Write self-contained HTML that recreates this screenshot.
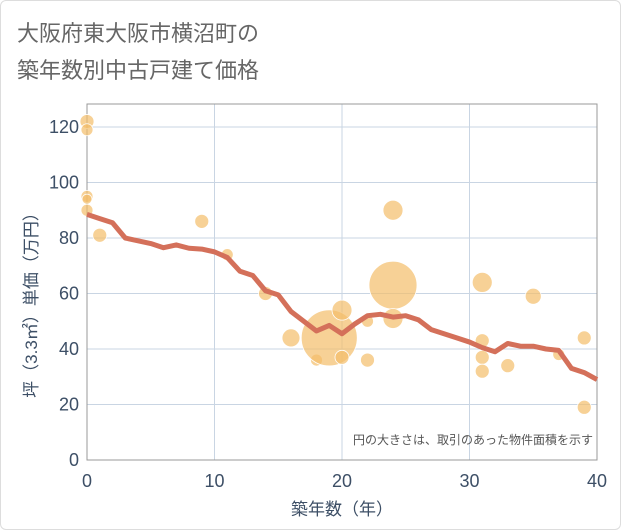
<!DOCTYPE html>
<html><head><meta charset="utf-8"><style>
body{margin:0;background:#fff;font-family:"Liberation Sans","Noto Sans CJK JP",sans-serif;}
#wrap{position:relative;width:619px;height:528px;border:1px solid #ddd;border-radius:6px;overflow:hidden}
</style></head><body>
<div id="wrap">
<svg id="c" width="621" height="530"></svg>
</div>
<script>
const lineX=[0,1,2,3,4,5,6,7,8,9,10,11,12,13,14,15,16,17,18,19,20,21,22,23,24,25,26,27,28,29,30,31,32,33,34,35,36,37,38,39,40];
const lineY=[88.5,87,85.5,80,79,78,76.5,77.5,76.3,76,75,73,68,66.5,61,59.5,53.5,50,46.5,48.5,45.5,49,52,52.5,51.5,52,50.5,47,45.5,44,42.5,40.5,39,42,41,41,40,39.5,33,31.5,29];
const bubX=[0,0,0,0,0,1,9,11,14,16,18,19,20,20,22,22,24,24,24,31,31,31,31,33,35,37,39,39];
const bubY=[122,119,95,94,90,81,86,74,60,44,36,44,54,37,50,36,90,63,51,64,43,37,32,34,59,38,44,19];
const bubR=[7,6,6,5,6,7,7,6,7,9,6,28,10,7,6,7,10,24,10,10,7,7,7,7,8,6,7,7];
const xTicks=[0,10,20,30,40];
const yTicks=[0,20,40,60,80,100,120];
const L=86,R=596,T=103,B=459;
const sx=v=>L+v*(R-L)/40, sy=v=>B-v*2.775;
const svg=document.getElementById('c');const NS='http://www.w3.org/2000/svg';
function mk(t,a,txt){const e=document.createElementNS(NS,t);for(const k in a)e.setAttribute(k,a[k]);if(txt!==undefined)e.textContent=txt;svg.appendChild(e);return e;}
let e;
e=mk('text',{x:16,y:40,'font-size':22,fill:'#666'},'大阪府東大阪市横沼町の');

e=mk('text',{x:16,y:77,'font-size':22,fill:'#666'},'築年数別中古戸建て価格');

yTicks.forEach(v=>{e=mk('line',{x1:L,x2:R,y1:sy(v),y2:sy(v),stroke:'#c9d5e3','stroke-width':1});

e=mk('text',{x:L-8,y:sy(v)+6,'text-anchor':'end','font-size':18,fill:'#3d4f66'},v);
});
xTicks.forEach(v=>{e=mk('line',{x1:sx(v),x2:sx(v),y1:T,y2:B,stroke:'#c9d5e3','stroke-width':1});

e=mk('text',{x:sx(v),y:B+27,'text-anchor':'middle','font-size':18,fill:'#3d4f66'},v);
});
e=mk('rect',{x:L,y:T,width:R-L,height:B-T,fill:'none',stroke:'#999','stroke-width':1});

bubX.forEach((x,i)=>{e=mk('circle',{cx:sx(x),cy:sy(bubY[i]),r:bubR[i],fill:'#f3bd69','fill-opacity':0.7,stroke:'#fff','stroke-width':0.8});
});
e=mk('polyline',{points:lineX.map((x,i)=>sx(x)+','+sy(lineY[i])).join(' '),fill:'none',stroke:'#d4705a','stroke-width':5,'stroke-linejoin':'round'});

e=mk('text',{x:592,y:443,'text-anchor':'end','font-size':12,fill:'#555'},'円の大きさは、取引のあった物件面積を示す');

e=mk('text',{x:341,y:514,'text-anchor':'middle','font-size':17,fill:'#3d4f66'},'築年数（年）');

e=mk('text',{x:0,y:0,'text-anchor':'middle','font-size':17,fill:'#3d4f66',transform:'translate(36,300) rotate(-90)'},'坪（3.3㎡）単価（万円）');

</script>
</body></html>
